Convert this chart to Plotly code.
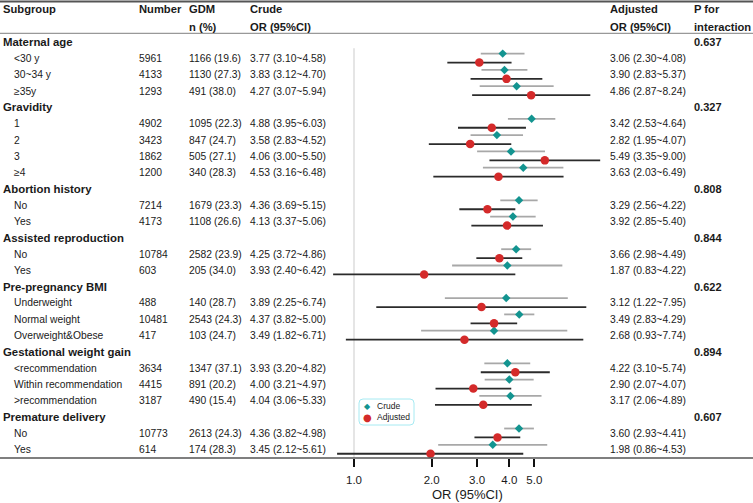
import plotly.graph_objects as go

groups = ["Maternal age", "Gravidity", "Abortion history", "Assisted reproduction",
          "Pre-pregnancy BMI", "Gestational weight gain", "Premature delivery"]
group_sizes = [3, 4, 2, 2, 3, 3, 2]
p_interaction = ["0.637", "0.327", "0.808", "0.844", "0.622", "0.894", "0.607"]

subgroups = ["<30 y", "30~34 y", "≥35y",
             "1", "2", "3", "≥4",
             "No", "Yes",
             "No", "Yes",
             "Underweight", "Normal weight", "Overweight&Obese",
             "<recommendation", "Within recommendation", ">recommendation",
             "No", "Yes"]
number = [5961, 4133, 1293, 4902, 3423, 1862, 1200, 7214, 4173, 10784, 603,
          488, 10481, 417, 3634, 4415, 3187, 10773, 614]
gdm_n = [1166, 1130, 491, 1095, 847, 505, 340, 1679, 1108, 2582, 205,
         140, 2543, 103, 1347, 891, 490, 2613, 174]
gdm_pct = [19.6, 27.3, 38.0, 22.3, 24.7, 27.1, 28.3, 23.3, 26.6, 23.9, 34.0,
           28.7, 24.3, 24.7, 37.1, 20.2, 15.4, 24.3, 28.3]

crude_or = [3.77, 3.83, 4.27, 4.88, 3.58, 4.06, 4.53, 4.36, 4.13, 4.25, 3.93,
            3.89, 4.37, 3.49, 3.93, 4.00, 4.04, 4.36, 3.45]
crude_lo = [3.10, 3.12, 3.07, 3.95, 2.83, 3.00, 3.16, 3.69, 3.37, 3.72, 2.40,
            2.25, 3.82, 1.82, 3.20, 3.21, 3.06, 3.82, 2.12]
crude_hi = [4.58, 4.70, 5.94, 6.03, 4.52, 5.50, 6.48, 5.15, 5.06, 4.86, 6.42,
            6.74, 5.00, 6.71, 4.82, 4.97, 5.33, 4.98, 5.61]

adj_or = [3.06, 3.90, 4.86, 3.42, 2.82, 5.49, 3.63, 3.29, 3.92, 3.66, 1.87,
          3.12, 3.49, 2.68, 4.22, 2.90, 3.17, 3.60, 1.98]
adj_lo = [2.30, 2.83, 2.87, 2.53, 1.95, 3.35, 2.03, 2.56, 2.85, 2.98, 0.83,
          1.22, 2.83, 0.93, 3.10, 2.07, 2.06, 2.93, 0.86]
adj_hi = [4.08, 5.37, 8.24, 4.64, 4.07, 9.00, 6.49, 4.22, 5.40, 4.49, 4.22,
          7.95, 4.29, 7.74, 5.74, 4.07, 4.89, 4.41, 4.53]

tick_vals = [1, 2, 3, 4, 5]
tick_text = ["1.0", "2.0", "3.0", "4.0", "5.0"]

# ---- layout helpers ----
W, H = 753, 503
PLOT_H = 458           # plot area height (bottom margin holds the axis labels)
FONT = "Arial, Liberation Sans, sans-serif"
TXT = "#1a1a1a"
CRUDE_COL, ADJ_COL = "#139490", "#d42a2a"
col_x = {"sub": 1, "item": 11.5, "num": 137, "gdm": 187, "crude": 248, "adj": 608, "p": 692}


def px(x):
    return x / W


def py(y):
    return 1 - y / PLOT_H


# row index for every header and subgroup line
group_rows, item_rows = [], []
r = 1
for size in group_sizes:
    group_rows.append(r)
    r += 1
    for _ in range(size):
        item_rows.append(r)
        r += 1

fig = go.Figure()

# reference line at OR = 1
fig.add_trace(go.Scatter(x=[1, 1], y=[1.37, 26.6], mode="lines",
                         line=dict(color="#dcdcdc", width=1.5),
                         showlegend=False, hoverinfo="skip"))


def ci_xy(lo, hi, rows, off):
    xs, ys = [], []
    for a, b, rr in zip(lo, hi, rows):
        xs += [a, b, None]
        ys += [rr + off, rr + off, None]
    return xs, ys


CRUDE_OFF, ADJ_OFF = -0.3, 0.25
cx, cy = ci_xy(crude_lo, crude_hi, item_rows, CRUDE_OFF)
ax_, ay = ci_xy(adj_lo, adj_hi, item_rows, ADJ_OFF)
fig.add_trace(go.Scatter(x=cx, y=cy, mode="lines", line=dict(color="#a8a8a8", width=1.8),
                         showlegend=False, hoverinfo="skip"))
fig.add_trace(go.Scatter(x=ax_, y=ay, mode="lines", line=dict(color="#2b2b2b", width=1.8),
                         showlegend=False, hoverinfo="skip"))

fig.add_trace(go.Scatter(x=crude_or, y=[rr + CRUDE_OFF for rr in item_rows], mode="markers",
                         name="Crude", showlegend=False,
                         marker=dict(symbol="diamond", size=6.5, color=CRUDE_COL)))
fig.add_trace(go.Scatter(x=adj_or, y=[rr + ADJ_OFF for rr in item_rows], mode="markers",
                         name="Adjusted", showlegend=False,
                         marker=dict(symbol="circle", size=8.5, color=ADJ_COL)))

ann = []


def text(x, y, s, bold=False, size=10.3):
    ann.append(dict(x=px(x), xref="paper", y=y, yref="y", text=f"<b>{s}</b>" if bold else s,
                    showarrow=False, xanchor="left", yanchor="middle",
                    font=dict(family=FONT, size=size, color=TXT)))


# header
for key, top, bottom in [("sub", "Subgroup", ""), ("num", "Number", ""),
                         ("gdm", "GDM", "n (%)"), ("crude", "Crude", "OR (95%CI)"),
                         ("adj", "Adjusted", "OR (95%CI)"), ("p", "P for", "interaction")]:
    text(col_x[key], -1.04, top, bold=True, size=11.2)
    if bottom:
        text(col_x[key], 0.05, bottom, bold=True, size=11.2)

for g, rr, p in zip(groups, group_rows, p_interaction):
    text(col_x["sub"], rr, g, bold=True, size=11.4)
    text(col_x["p"], rr, p, bold=True, size=11)

for i, rr in enumerate(item_rows):
    text(col_x["item"], rr, subgroups[i])
    text(col_x["num"], rr, str(number[i]))
    text(col_x["gdm"], rr, f"{gdm_n[i]} ({gdm_pct[i]:.1f})")
    text(col_x["crude"], rr, f"{crude_or[i]:.2f} ({crude_lo[i]:.2f}~{crude_hi[i]:.2f})")
    text(col_x["adj"], rr, f"{adj_or[i]:.2f} ({adj_lo[i]:.2f}~{adj_hi[i]:.2f})")

ann.append(dict(x=px(467.5), xref="paper", y=py(495), yref="paper", text="OR (95%CI)",
                showarrow=False, xanchor="center", yanchor="middle",
                font=dict(family=FONT, size=13, color=TXT)))

# legend box (rounded) with its two entries
lx0, lx1, ly0, ly1, rad = 359, 414, 399, 425, 4
box = (f"M {px(lx0 + rad)} {py(ly0)} L {px(lx1 - rad)} {py(ly0)} "
       f"Q {px(lx1)} {py(ly0)} {px(lx1)} {py(ly0 + rad)} L {px(lx1)} {py(ly1 - rad)} "
       f"Q {px(lx1)} {py(ly1)} {px(lx1 - rad)} {py(ly1)} L {px(lx0 + rad)} {py(ly1)} "
       f"Q {px(lx0)} {py(ly1)} {px(lx0)} {py(ly1 - rad)} L {px(lx0)} {py(ly0 + rad)} "
       f"Q {px(lx0)} {py(ly0)} {px(lx0 + rad)} {py(ly0)} Z")
for sym, col, label, yy, fs in [("◆", CRUDE_COL, "Crude", 406, 8), ("●", ADJ_COL, "Adjusted", 417, 10)]:
    ann.append(dict(x=px(367), xref="paper", y=py(yy), yref="paper", text=sym,
                    showarrow=False, xanchor="center", yanchor="middle",
                    font=dict(family="DejaVu Sans", size=fs, color=col)))
    ann.append(dict(x=px(375), xref="paper", y=py(yy), yref="paper", text=label,
                    showarrow=False, xanchor="left", yanchor="middle",
                    font=dict(family=FONT, size=8.5, color=TXT)))

shapes = [
    dict(type="line", xref="paper", yref="y", x0=0, x1=1, y0=-1.5, y1=-1.5,
         line=dict(color="#555555", width=2)),
    dict(type="line", xref="paper", yref="y", x0=0, x1=1, y0=0.454, y1=0.454,
         line=dict(color="#999999", width=1.2)),
    dict(type="line", xref="paper", yref="paper", x0=0, x1=1, y0=0, y1=0,
         line=dict(color="#555555", width=1.3)),
    dict(type="path", xref="paper", yref="paper", path=box,
         fillcolor="white", line=dict(color="#a6eaf2", width=1)),
]

fig.update_layout(
    width=W, height=H,
    margin=dict(l=0, r=0, t=0, b=H - PLOT_H),
    plot_bgcolor="white", paper_bgcolor="white",
    annotations=ann, shapes=shapes,
    font=dict(family=FONT, color=TXT),
    xaxis=dict(type="log", range=[-354 / 258, (W - 354) / 258],
               tickvals=tick_vals, ticktext=tick_text,
               ticks="outside", ticklen=8, tickwidth=2, tickcolor="#111111",
               ticklabelstandoff=3,
               showgrid=False, zeroline=False, showline=False,
               tickfont=dict(family=FONT, size=11.5, color=TXT)),
    yaxis=dict(range=[26.51, -1.589], visible=False, showgrid=False, zeroline=False),
    showlegend=False,
)

fig.write_html("out.html", config={"displayModeBar": False},
               post_script="document.body.style.margin='0';")
